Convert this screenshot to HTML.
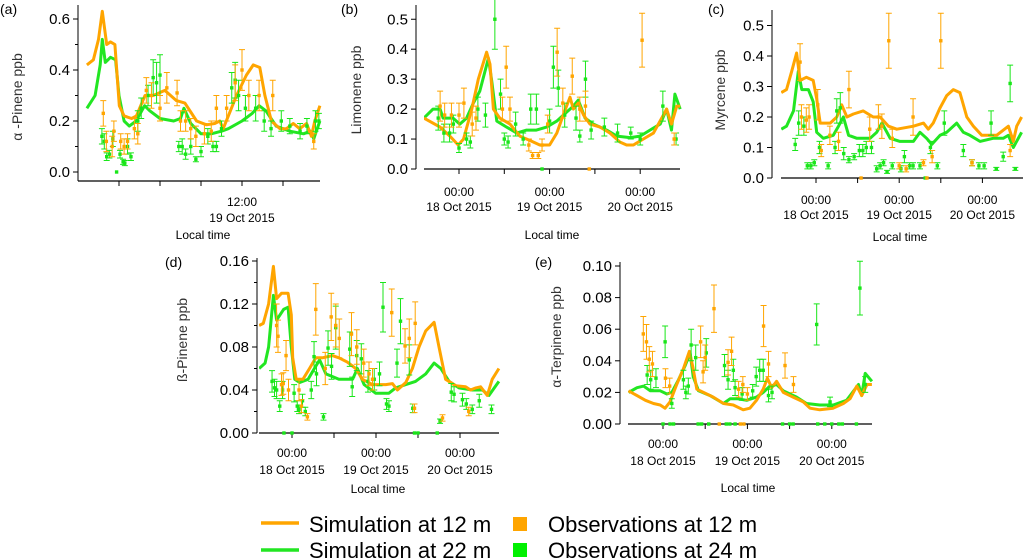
<!DOCTYPE html>
<html><head><meta charset="utf-8">
<style>
html,body{margin:0;padding:0;background:#fff;}
svg{display:block;font-family:"Liberation Sans",Arial,sans-serif;}
</style></head>
<body>
<svg id="chart" width="1023" height="559" viewBox="0 0 1023 559" xmlns="http://www.w3.org/2000/svg">
<g id="legend">
  <g>
    <line x1="261" y1="523" x2="299" y2="523" stroke="#ffa500" stroke-width="3.5"/>
    <text x="309" y="532" font-size="22" fill="#000">Simulation at 12 m</text>
  </g>
  <g>
    <line x1="261" y1="550" x2="299" y2="550" stroke="#22e622" stroke-width="3.5"/>
    <text x="309" y="558" font-size="22" fill="#000">Simulation at 22 m</text>
  </g>
  <g>
    <rect x="513" y="517" width="14" height="14" fill="#ffa500"/>
    <text x="548" y="532" font-size="22" fill="#000">Observations at 12 m</text>
  </g>
  <g>
    <rect x="513" y="543" width="14" height="14" fill="#00f000"/>
    <text x="548" y="558" font-size="22" fill="#000">Observations at 24 m</text>
  </g>
</g>
</svg>
<script>
// time in hours relative to 00:00 18 Oct 2015
const aSim12 = [[-9.4,0.42],[-7.5,0.44],[-6,0.52],[-4.9,0.63],[-3.6,0.5],[-2.5,0.51],[-1.2,0.5],[0.1,0.26],[1.5,0.22],[3.7,0.21],[5.1,0.22],[7.6,0.3],[10,0.3],[13.4,0.32],[16.8,0.28],[19.3,0.27],[22.7,0.2],[25.6,0.185],[28,0.19],[29.5,0.2],[30.5,0.17],[32.9,0.25],[34.4,0.3],[37.3,0.38],[39.3,0.42],[41.2,0.41],[42.7,0.3],[44.6,0.2],[47.1,0.17],[49,0.17],[51,0.19],[52.9,0.17],[54.9,0.19],[56.3,0.14],[57.3,0.2],[58.8,0.26]];
const aSim22 = [[-9.4,0.25],[-7,0.3],[-5.5,0.42],[-4.9,0.52],[-4,0.43],[-2.5,0.45],[-1,0.44],[0,0.3],[1.5,0.2],[3,0.18],[5,0.2],[7.5,0.26],[9,0.24],[12,0.21],[16,0.2],[18,0.21],[19,0.25],[21,0.19],[24,0.15],[27,0.15],[30,0.16],[32,0.17],[36,0.2],[39,0.23],[41,0.26],[43,0.24],[46,0.18],[50,0.16],[54,0.15],[56,0.16],[57,0.13],[58,0.17],[58.8,0.2]];
const aObs12 = [[-4.6,0.23,0.05],[-3.7,0.12,0.04],[-2,0.1,0.04],[-1.5,0.16,0.04],[0.5,0.12,0.03],[1.5,0.1,0.03],[2.5,0.12,0.03],[4.5,0.17,0.04],[5.5,0.15,0.04],[8,0.32,0.05],[9.5,0.3,0.05],[12,0.25,0.05],[14,0.33,0.06],[17,0.31,0.05],[18,0.2,0.04],[19.5,0.2,0.04],[21,0.17,0.04],[22.5,0.14,0.04],[25,0.15,0.04],[27,0.16,0.04],[28.5,0.25,0.05],[31.5,0.25,0.05],[34,0.35,0.07],[36,0.4,0.08],[38,0.3,0.06],[41,0.3,0.06],[45,0.3,0.06],[57,0.12,0.03]];
const aObs24 = [[-5,0.14,0.03],[-4.3,0.12,0.03],[-3.6,0.06,0.015],[-2.8,0.07,0.015],[-1.8,0.13,0.03],[-0.7,0.0,0.0],[0.3,0.07,0.015],[1.2,0.04,0.01],[1.7,0.035,0.01],[2.5,0.1,0.03],[3.5,0.06,0.015],[5.5,0.2,0.04],[6.5,0.25,0.04],[8.5,0.3,0.04],[10,0.37,0.07],[11,0.35,0.08],[12,0.38,0.08],[17.5,0.1,0.02],[18.5,0.1,0.03],[19.5,0.07,0.02],[21,0.1,0.03],[22.5,0.05,0.01],[24,0.08,0.02],[26,0.14,0.03],[27.5,0.1,0.02],[28.5,0.1,0.02],[30,0.17,0.03],[33,0.33,0.06],[34,0.36,0.07],[35,0.3,0.06],[37,0.25,0.05],[40,0.25,0.05],[42.5,0.2,0.04],[44.5,0.17,0.03],[47.5,0.2,0.04],[50,0.18,0.03],[53,0.16,0.03],[55,0.18,0.03],[57.5,0.2,0.04],[58.5,0.2,0.03]];

const bSim12 = [[-9.3,0.17],[-5,0.14],[-2.4,0.11],[-0.2,0.08],[1.2,0.1],[3.4,0.2],[5.1,0.3],[7.3,0.39],[8.2,0.35],[9.1,0.2],[10.8,0.17],[13.5,0.15],[16.1,0.11],[18.8,0.095],[21.4,0.08],[24,0.08],[25.9,0.12],[27.6,0.18],[29.4,0.24],[30.3,0.2],[31.6,0.22],[33,0.18],[34.7,0.15],[37.4,0.14],[40,0.12],[42.6,0.09],[44.4,0.08],[46.2,0.08],[48.8,0.1],[51.5,0.12],[53.7,0.17],[55,0.2],[56.3,0.15],[57.7,0.21],[58.6,0.21]];
const bSim22 = [[-9.3,0.17],[-6.9,0.2],[-5,0.2],[-4.2,0.17],[-1.6,0.17],[0.2,0.15],[2,0.17],[3.8,0.22],[5.5,0.26],[7.8,0.37],[8.6,0.3],[10,0.16],[12.6,0.14],[15.3,0.12],[17.9,0.13],[20.5,0.13],[23.2,0.14],[25.9,0.16],[28.5,0.19],[30.3,0.21],[31.6,0.23],[33.4,0.17],[35.6,0.15],[39.1,0.13],[41.8,0.11],[45.3,0.105],[48,0.11],[50.6,0.13],[53.3,0.15],[55,0.2],[56.3,0.13],[57.2,0.25],[58.6,0.2]];
const bObs12 = [[-5,0.21,0.05],[-3.8,0.18,0.04],[-2,0.18,0.04],[0,0.18,0.04],[1.3,0.22,0.05],[3.5,0.15,0.04],[4.5,0.17,0.04],[11.5,0.2,0.04],[12.5,0.34,0.07],[13.5,0.2,0.04],[18.5,0.08,0.02],[19.5,0.045,0.01],[21,0.045,0.01],[22,0.08,0.02],[23.5,0.15,0.03],[26,0.39,0.08],[27.5,0.22,0.05],[30,0.31,0.06],[32,0.2,0.04],[33.5,0.21,0.05],[34.5,0.0,0.0],[48.5,0.43,0.09],[57,0.1,0.02]];
const bObs24 = [[-5.5,0.17,0.04],[-4,0.12,0.03],[-2.5,0.12,0.03],[-1.5,0.15,0.03],[0,0.07,0.015],[2,0.1,0.02],[3,0.09,0.02],[5,0.2,0.04],[7,0.18,0.04],[9.5,0.5,0.1],[11,0.25,0.05],[12,0.1,0.02],[13,0.09,0.02],[15,0.15,0.04],[17,0.1,0.02],[19,0.2,0.05],[20.5,0.2,0.05],[22,0.0,0.0],[24,0.16,0.04],[25,0.34,0.07],[26.3,0.27,0.06],[28,0.18,0.04],[31,0.17,0.04],[32,0.11,0.02],[33.5,0.3,0.06],[35,0.13,0.03],[38.5,0.14,0.03],[42,0.12,0.03],[45.5,0.12,0.02],[48,0.1,0.02],[54,0.21,0.05],[57.5,0.1,0.02]];

const cSim12 = [[-10,0.28],[-8.5,0.29],[-7,0.35],[-5.6,0.41],[-4.6,0.32],[-2.8,0.33],[-0.8,0.32],[0.2,0.26],[1.2,0.18],[4.1,0.18],[6,0.2],[7.4,0.24],[8.9,0.2],[10.8,0.21],[13.6,0.22],[16.5,0.2],[18.5,0.2],[20.9,0.17],[23.3,0.16],[28.1,0.17],[31,0.18],[32.4,0.16],[33.8,0.18],[35.8,0.23],[37.7,0.27],[39.6,0.29],[41.5,0.28],[43.5,0.2],[45.4,0.17],[47.8,0.14],[50.2,0.14],[52.1,0.14],[55.5,0.17],[56.9,0.12],[57.9,0.17],[59.3,0.2]];
const cSim22 = [[-10,0.16],[-8.5,0.17],[-6.5,0.22],[-5.1,0.35],[-4.1,0.29],[-2.2,0.29],[-0.8,0.25],[0.2,0.15],[2.1,0.13],[5,0.14],[6.5,0.17],[7.9,0.2],[9.4,0.14],[11.8,0.13],[15.6,0.13],[17.5,0.15],[19,0.18],[21.4,0.13],[24.2,0.12],[28.1,0.12],[30,0.15],[31.9,0.13],[33.4,0.11],[35.8,0.14],[37.7,0.15],[40.6,0.18],[42.5,0.15],[44.4,0.14],[47.3,0.12],[51.1,0.13],[54,0.13],[55.5,0.14],[56.9,0.1],[59.3,0.15]];
const cObs12 = [[-4.6,0.38,0.06],[-4.2,0.2,0.04],[-2.8,0.19,0.04],[-2,0.2,0.04],[0.5,0.24,0.05],[1.5,0.09,0.02],[4,0.14,0.03],[6.5,0.12,0.03],[9.5,0.29,0.06],[13,0.0,0.0],[15.5,0.16,0.04],[18,0.2,0.04],[19,0.17,0.04],[21,0.45,0.09],[22,0.13,0.03],[24,0.04,0.01],[26,0.03,0.01],[28,0.2,0.06],[31,0.05,0.01],[32,0.0,0.0],[33.5,0.07,0.02],[36,0.45,0.09],[45,0.05,0.01],[56,0.09,0.02]];
const cObs24 = [[-6,0.11,0.02],[-5,0.18,0.04],[-3.5,0.17,0.03],[-2.5,0.04,0.01],[-1.5,0.04,0.01],[-0.5,0.05,0.01],[1,0.1,0.02],[3.5,0.04,0.01],[5.5,0.1,0.02],[6,0.22,0.04],[7,0.23,0.05],[8,0.08,0.02],[9.5,0.06,0.01],[11,0.07,0.01],[12.5,0.09,0.02],[13.5,0.09,0.02],[14.5,0.1,0.02],[16,0.1,0.02],[17.5,0.03,0.01],[18.5,0.04,0.01],[19.5,0.05,0.01],[20.5,0.02,0.005],[22,0.04,0.01],[24.5,0.03,0.01],[25.5,0.07,0.02],[27,0.04,0.01],[28,0.04,0.01],[30,0.04,0.01],[31.5,0.0,0.0],[33,0.1,0.02],[35,0.04,0.01],[37,0.18,0.04],[42.5,0.09,0.02],[45,0.05,0.01],[47,0.04,0.01],[48.5,0.04,0.01],[50.5,0.18,0.04],[52,0.03,0.005],[54,0.07,0.015],[56,0.31,0.06],[57.5,0.03,0.005]];

const dSim12 = [[-9.4,0.1],[-8.2,0.102],[-6.7,0.12],[-5.3,0.155],[-4.4,0.125],[-3,0.13],[-1.1,0.13],[-0.2,0.11],[0.2,0.07],[1.2,0.05],[3.1,0.05],[5,0.06],[6.8,0.07],[8.7,0.07],[11.5,0.072],[13.4,0.07],[15.8,0.066],[18.2,0.06],[20.1,0.05],[23,0.045],[26.8,0.045],[28.7,0.046],[30.1,0.04],[32.5,0.047],[34.4,0.06],[36.3,0.08],[38.2,0.095],[40.6,0.103],[42,0.08],[43.9,0.05],[46.8,0.044],[49.6,0.043],[51,0.04],[52.5,0.042],[53.9,0.043],[55.8,0.035],[57.2,0.05],[59.1,0.06]];
const dSim22 = [[-9.4,0.06],[-7.7,0.065],[-6.7,0.08],[-5.3,0.128],[-4.4,0.105],[-2.4,0.115],[-1.1,0.117],[-0.2,0.08],[0.8,0.05],[2.2,0.047],[4.6,0.05],[6.4,0.06],[7.9,0.068],[9.7,0.055],[13.4,0.05],[17.3,0.05],[18.7,0.06],[20.6,0.045],[23.9,0.037],[27.7,0.037],[29.6,0.042],[32.5,0.045],[35.3,0.048],[38.2,0.055],[40.6,0.065],[42.5,0.06],[44.9,0.048],[47.7,0.042],[51.5,0.04],[54.4,0.04],[56.3,0.035],[59.1,0.048]];
const dObs12 = [[-4.4,0.1,0.02],[-4,0.09,0.015],[-3,0.045,0.01],[-2.5,0.046,0.01],[-1.7,0.072,0.014],[-1,0.04,0.01],[2,0.04,0.01],[2.7,0.025,0.006],[4.4,0.015,0.003],[6.8,0.115,0.024],[9.5,0.06,0.015],[11.2,0.108,0.022],[12.5,0.1,0.02],[13.5,0.088,0.018],[17,0.092,0.02],[18.5,0.08,0.016],[20.5,0.065,0.013],[22,0.055,0.011],[23,0.05,0.01],[28.5,0.112,0.022],[32.3,0.081,0.016],[33.5,0.088,0.018],[35.2,0.102,0.02],[35,0.023,0.004],[43,0.014,0.003],[50.5,0.02,0.004]];
const dObs24 = [[-5.7,0.048,0.01],[-5,0.042,0.008],[-4.4,0.04,0.008],[-3.5,0.025,0.005],[-2.7,0.04,0.008],[-2.3,0.0,0.0],[0,0.0,0.0],[0.6,0.037,0.008],[1.5,0.025,0.005],[2,0.022,0.004],[3,0.03,0.006],[3.8,0.02,0.004],[5.5,0.04,0.008],[6.3,0.071,0.014],[7,0.055,0.011],[9,0.015,0.003],[10.3,0.079,0.016],[11.3,0.062,0.012],[12.5,0.098,0.02],[16.5,0.078,0.016],[17.2,0.043,0.009],[18.5,0.072,0.014],[19.8,0.069,0.014],[21.7,0.048,0.01],[23.5,0.05,0.01],[25,0.055,0.011],[26,0.117,0.023],[27,0.027,0.005],[27.7,0.025,0.005],[30,0.065,0.013],[31,0.104,0.021],[33.5,0.068,0.014],[34.5,0.023,0.004],[35,0.0,0.0],[36,0.0,0.0],[41.5,0.0,0.0],[42.3,0.011,0.002],[45.5,0.038,0.008],[46.3,0.036,0.007],[48.7,0.031,0.006],[49.8,0.027,0.005],[51.5,0.022,0.004],[53.5,0.03,0.006],[57,0.022,0.004]];

const eSim12 = [[-9.8,0.021],[-7.4,0.018],[-5,0.015],[-2.7,0.013],[-0.8,0.012],[0.6,0.01],[2,0.014],[3.9,0.025],[5.8,0.035],[7.5,0.046],[8.6,0.035],[9.6,0.022],[11.5,0.02],[14.3,0.017],[17.2,0.013],[20,0.012],[22.8,0.009],[24.7,0.01],[26.6,0.015],[28.5,0.022],[29.7,0.029],[30.9,0.023],[32.3,0.027],[34.2,0.02],[37,0.017],[39.9,0.014],[41.8,0.01],[44.6,0.009],[48.4,0.01],[51.3,0.013],[53.2,0.016],[55.1,0.024],[56.5,0.018],[58,0.025],[59.4,0.025]];
const eSim22 = [[-9.8,0.02],[-7.4,0.023],[-5.5,0.024],[-3.6,0.021],[-0.8,0.021],[1.1,0.019],[2.5,0.02],[4.4,0.028],[6.3,0.037],[7.7,0.045],[8.6,0.03],[10.1,0.021],[13.4,0.018],[17.2,0.013],[19.1,0.016],[21,0.016],[23.8,0.015],[26.6,0.017],[28.5,0.02],[30.4,0.024],[32.3,0.025],[34.2,0.021],[38,0.017],[40.8,0.013],[44.6,0.012],[48.4,0.012],[52.2,0.015],[55.6,0.025],[56.5,0.018],[57.5,0.032],[59.4,0.027]];
const eObs12 = [[-5.6,0.057,0.011],[-4.7,0.052,0.011],[-3.9,0.041,0.008],[-3,0.038,0.008],[0.7,0.029,0.006],[1.9,0.024,0.005],[10.7,0.052,0.01],[11.4,0.033,0.007],[12,0.042,0.008],[14.5,0.073,0.015],[18.5,0.039,0.008],[19.5,0.046,0.009],[21.5,0.022,0.005],[22.7,0.025,0.005],[24,0.019,0.004],[28.6,0.062,0.013],[30,0.038,0.008],[34.7,0.037,0.008],[37.1,0.025,0.005],[16,0,0],[22,0,0],[23,0,0]];
const eObs24 = [[-4.5,0.031,0.006],[-3.5,0.028,0.006],[-2,0.029,0.006],[0.6,0.052,0.01],[2.5,0.013,0.003],[5.8,0.028,0.006],[6.5,0.02,0.004],[7.2,0.024,0.005],[8,0.05,0.01],[9.3,0.042,0.008],[12.3,0.045,0.009],[17.5,0.037,0.007],[18.5,0.028,0.006],[20,0.034,0.007],[20.5,0.023,0.005],[22.5,0.019,0.004],[25.5,0.021,0.004],[26.5,0.03,0.006],[27.5,0.034,0.007],[28.5,0.034,0.007],[30,0.018,0.004],[31,0.02,0.004],[43.7,0.063,0.013],[47.5,0.014,0.003],[56,0.086,0.017],[57.5,0.025,0.005],[0,0,0],[2,0,0],[3,0,0],[10,0,0],[11,0,0],[13,0,0],[18,0,0],[19,0,0],[20.5,0,0],[34,0,0],[36,0,0],[37,0,0],[44,0,0],[46,0,0],[48,0,0],[50,0,0],[51,0,0],[55,0,0]];

const yTicksA = [0,0.1,0.2,0.3,0.4,0.5,0.6];
const yLabelsA = ["0.0","","0.2","","0.4","","0.6"];
const yTicksB = [0,0.1,0.2,0.3,0.4,0.5];
const yLabelsB = ["0.0","0.1","0.2","0.3","0.4","0.5"];
const yTicksD = [0,0.02,0.04,0.06,0.08,0.1,0.12,0.14,0.16];
const yLabelsD = ["0.00","","0.04","","0.08","","0.12","","0.16"];
const yTicksE = [0,0.02,0.04,0.06,0.08,0.1];
const yLabelsE = ["0.00","0.02","0.04","0.06","0.08","0.10"];
const xTicks = [0,12,24,36,48];
const xLabelsMulti = [["00:00","18 Oct 2015"],null,["00:00","19 Oct 2015"],null,["00:00","20 Oct 2015"]];
const xLabelsA = [null,null,null,["12:00","19 Oct 2015"],null];

const NS = "http://www.w3.org/2000/svg";
const svg = document.getElementById('chart');
const ORANGE = "#ffa500", GREEN = "#22e622", GREENPT = "#19e619";

function mk(tag, attrs, parent){
  const el = document.createElementNS(NS, tag);
  for (const k in attrs) el.setAttribute(k, attrs[k]);
  parent.appendChild(el);
  return el;
}

function panel(cfg){
  const g = mk('g', {}, svg);
  
  
  const xs = t => cfg.x0 + t * cfg.pxPerHour;
  const ys = v => cfg.y0 - v * cfg.ppu;
  const cid = 'clip' + cfg.id;
  const cp = mk('clipPath', {id: cid}, g);
  mk('rect', {x: cfg.xStart, y: 0, width: cfg.xEnd - cfg.xStart + 2, height: cfg.xAxisY + 2}, cp);

  const ya = mk('g', {}, g);
  
  
  mk('line', {x1: cfg.yAxisX, y1: cfg.yTop, x2: cfg.yAxisX, y2: cfg.xAxisY, stroke: '#000', 'stroke-width': 1}, ya);
  cfg.yTicks.forEach((v, i) => {
    const y = ys(v);
    const lab = cfg.yLabels[i];
    const len = lab ? 5 : 3;
    mk('line', {x1: cfg.yAxisX - len, y1: y, x2: cfg.yAxisX, y2: y, stroke: '#000', 'stroke-width': 1}, ya);
    if (lab) {
      const t = mk('text', {x: cfg.yAxisX - 8, y: y + 5, 'font-size': 15, 'text-anchor': 'end', fill: '#000'}, ya);
      t.textContent = lab;
      
      
    }
  });
  const yt = mk('text', {x: cfg.yTitleX, y: cfg.yTitleY, 'font-size': 14, 'text-anchor': 'middle', fill: '#333', transform: 'rotate(-90 ' + cfg.yTitleX + ' ' + cfg.yTitleY + ')'}, ya);
  yt.textContent = cfg.yTitle;
  
  

  const xa = mk('g', {}, g);
  
  
  mk('line', {x1: cfg.xStart, y1: cfg.xAxisY, x2: cfg.xEnd, y2: cfg.xAxisY, stroke: '#000', 'stroke-width': 1.2}, xa);
  cfg.xTicks.forEach((t, i) => {
    const x = xs(t);
    mk('line', {x1: x, y1: cfg.xAxisY, x2: x, y2: cfg.xAxisY + 5, stroke: '#000', 'stroke-width': 1}, xa);
    const lab = cfg.xLabels[i];
    if (lab) {
      const t1 = mk('text', {x: x, y: cfg.lab1Y, 'font-size': 12, 'text-anchor': 'middle', fill: '#000'}, xa);
      t1.textContent = lab[0];
      
      
      const t2 = mk('text', {x: x, y: cfg.lab2Y, 'font-size': 12, 'text-anchor': 'middle', fill: '#000'}, xa);
      t2.textContent = lab[1];
      
      
    }
  });
  const xt = mk('text', {x: cfg.xTitleX, y: cfg.xTitleY, 'font-size': 12, 'text-anchor': 'middle', fill: '#000'}, xa);
  xt.textContent = 'Local time';
  
  

  const pl = mk('text', {x: cfg.plX, y: cfg.plY, 'font-size': 14, fill: '#000'}, g);
  pl.textContent = '(' + cfg.id + ')';
  
  

  const plot = mk('g', {'clip-path': 'url(#' + cid + ')'}, g);
  function line(data, color, name){
    const d = data.map((p, i) => (i ? 'L' : 'M') + xs(p[0]).toFixed(1) + ',' + ys(p[1]).toFixed(1)).join('');
    const p = mk('path', {d: d, fill: 'none', stroke: color, 'stroke-width': 3, 'stroke-linejoin': 'round'}, plot);
    
    
  }
  function obs(data, color, name){
    const og = mk('g', {}, plot);
    
    
    data.forEach(p => {
      const x = xs(p[0]), y = ys(p[1]);
      if (p[2] > 0) {
        const y1 = ys(p[1] + p[2]), y2 = ys(p[1] - p[2]);
        mk('path', {d: 'M' + x + ',' + y1 + 'V' + y2 + 'M' + (x - 3) + ',' + y1 + 'H' + (x + 3) + 'M' + (x - 3) + ',' + y2 + 'H' + (x + 3), stroke: color, 'stroke-width': 1, fill: 'none'}, og);
      }
      const r = mk('rect', {x: x - 1.7, y: y - 1.7, width: 3.4, height: 3.4, fill: color}, og);
      
      
    });
  }
  line(cfg.sim22, GREEN, 'sim-22m-line');
  line(cfg.sim12, ORANGE, 'sim-12m-line');
  obs(cfg.obs24, GREENPT, 'obs-24m-points');
  obs(cfg.obs12, ORANGE, 'obs-12m-points');
}

panel({id:'a', x0:119, pxPerHour:41/12, y0:172, ppu:255, yAxisX:78, yTop:5, xAxisY:181, xStart:78, xEnd:320,
  yTicks:yTicksA, yLabels:yLabelsA, xTicks:xTicks, xLabels:xLabelsA, lab1Y:206, lab2Y:222, xTitleX:203, xTitleY:239,
  yTitle:'α -Pinene ppb', yTitleX:22, yTitleY:97, plX:0, plY:14,
  sim12:aSim12, sim22:aSim22, obs12:aObs12, obs24:aObs24});
panel({id:'b', x0:459, pxPerHour:45.3/12, y0:169, ppu:299.5, yAxisX:416, yTop:5, xAxisY:169, xStart:424, xEnd:680,
  yTicks:yTicksB, yLabels:yLabelsB, xTicks:xTicks, xLabels:xLabelsMulti, lab1Y:196, lab2Y:211, xTitleX:552, xTitleY:239,
  yTitle:'Limonene ppb', yTitleX:361, yTitleY:90, plX:341, plY:14,
  sim12:bSim12, sim22:bSim22, obs12:bObs12, obs24:bObs24});
panel({id:'c', x0:816, pxPerHour:41.6/12, y0:178, ppu:305, yAxisX:772, yTop:10, xAxisY:178, xStart:781, xEnd:1023,
  yTicks:yTicksB, yLabels:yLabelsB, xTicks:xTicks, xLabels:xLabelsMulti, lab1Y:204, lab2Y:219, xTitleX:900, xTitleY:241,
  yTitle:'Myrcene ppb', yTitleX:725, yTitleY:90, plX:708, plY:14,
  sim12:cSim12, sim22:cSim22, obs12:cObs12, obs24:cObs24});
panel({id:'d', x0:292, pxPerHour:42/12, y0:433, ppu:1075, yAxisX:257, yTop:258, xAxisY:433, xStart:259, xEnd:499,
  yTicks:yTicksD, yLabels:yLabelsD, xTicks:xTicks, xLabels:xLabelsMulti, lab1Y:457, lab2Y:474, xTitleX:378, xTitleY:493,
  yTitle:'ß-Pinene ppb', yTitleX:187, yTitleY:340, plX:165, plY:267,
  sim12:dSim12, sim22:dSim22, obs12:dObs12, obs24:dObs24});
panel({id:'e', x0:663, pxPerHour:42.2/12, y0:424, ppu:1580, yAxisX:620, yTop:262, xAxisY:424, xStart:628, xEnd:872,
  yTicks:yTicksE, yLabels:yLabelsE, xTicks:xTicks, xLabels:xLabelsMulti, lab1Y:448, lab2Y:465, xTitleX:748, xTitleY:492,
  yTitle:'α-Terpinene ppb', yTitleX:561, yTitleY:337, plX:535, plY:267,
  sim12:eSim12, sim22:eSim22, obs12:eObs12, obs24:eObs24});
</script>
</body></html>
